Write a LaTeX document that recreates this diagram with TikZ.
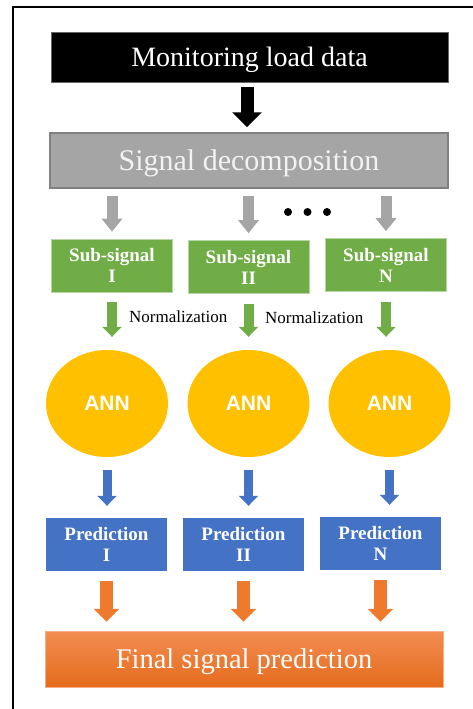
\documentclass[tikz,border=0pt]{standalone}
\usepackage{fontspec}
\setmainfont{Liberation Serif}
\newfontfamily\annfont{Liberation Sans}
\usetikzlibrary{arrows.meta}
\usetikzlibrary{shapes.geometric}

\definecolor{stepgrey}{HTML}{A5A5A5}
\definecolor{stepgreyline}{HTML}{808080}
\definecolor{subgreen}{HTML}{70AD47}
\definecolor{annyellow}{HTML}{FFC000}
\definecolor{predblue}{HTML}{4472C4}
\definecolor{finaltop}{HTML}{F28D52}
\definecolor{finalbottom}{HTML}{E56B1C}
\definecolor{finalorange}{HTML}{EE7A2E}

\tikzset{
  bigbox/.style={rectangle, inner sep=0pt, minimum width=397pt, text=white,
    text depth=0pt, font=\fontsize{28}{30}\selectfont},
  smallbox/.style={rectangle, inner sep=0pt, minimum width=121pt, minimum height=53pt,
    text=white, align=center, font=\bfseries\fontsize{19}{21}\selectfont},
  subbox/.style={smallbox, fill=subgreen, draw=subgreen!50!white, line width=0.6pt},
  predbox/.style={smallbox, fill=predblue},
  annnode/.style={ellipse, fill=annyellow, inner sep=0pt, minimum width=122pt,
    minimum height=107pt, text=white, font=\annfont\bfseries\fontsize{21}{24}\selectfont},
  blockarrow/.style n args={4}{draw=#1, line width=#2,
    -{Triangle[width=#3, length=#4, fill=#1]}},
  normlabel/.style={anchor=west, inner sep=0pt, font=\fontsize{17}{19}\selectfont}
}

\begin{document}
\begin{tikzpicture}[x=1pt, y=-1pt]
\useasboundingbox (0,0) rectangle (472,709);

% frame
\draw[line width=2pt] (12.5,709) -- (12.5,7) -- (473,7);

% top of the flow
\node[bigbox, fill=black, draw=black!60, line width=0.5pt, minimum height=50pt] (load) at (249.5,57) {Monitoring load data};
\node[bigbox, fill=stepgrey, draw=stepgreyline, line width=1.5pt, minimum width=398pt, minimum height=55pt,
  text=white!95!black, font=\fontsize{30}{32}\selectfont] (dec) at (249,160.5) {Signal decomposition};

% sub-signals
\node[subbox] (sub1) at (112,265.5) {Sub-signal\\I};
\node[subbox] (sub2) at (248.5,267) {Sub-signal\\II};
\node[subbox] (sub3) at (386,265) {Sub-signal\\N};
\foreach \dx in {288,307.5,327}
  \fill (\dx,212) circle (4pt);

% networks
\node[annnode] (ann1) at (107,403.5) {ANN};
\node[annnode] (ann2) at (248.5,403.5) {ANN};
\node[annnode] (ann3) at (389.5,403.5) {ANN};

% predictions
\node[predbox] (pred1) at (106.5,544.5) {Prediction\\I};
\node[predbox] (pred2) at (243.5,544.5) {Prediction\\II};
\node[predbox] (pred3) at (380.5,543.5) {Prediction\\N};

\node[bigbox, top color=finaltop, bottom color=finalbottom, draw=finaltop!70!white, line width=0.5pt,
  minimum width=398pt, minimum height=56pt, font=\fontsize{28.5}{30}\selectfont] (final) at (244,659) {Final signal prediction};

% arrows
\draw[blockarrow={black}{13pt}{29pt}{15pt}, shorten <=5pt, shorten >=5pt] (load.south -| dec) ++(-2,0) -- (dec.north -| 247,0);
\foreach \i in {1,2,3} {
  \draw[blockarrow={stepgrey}{11pt}{20pt}{13pt}, shorten <=7pt, shorten >=7pt] (dec.south -| sub\i) -- (sub\i.north);
  \draw[blockarrow={subgreen}{10pt}{19pt}{10pt}, shorten <=10pt, shorten >=13pt] (sub\i.south) -- (sub\i |- ann\i.north);
  \draw[blockarrow={predblue}{9pt}{19pt}{10pt}, shorten <=13pt, shorten >=12pt] (ann\i.south) -- (ann\i |- pred\i.north);
  \draw[blockarrow={finalorange}{13pt}{25pt}{13pt}, shorten <=10pt, shorten >=9pt] (pred\i.south) -- (pred\i |- final.north);
}

\node[normlabel] (norm1) at (129,317) {Normalization};
\node[normlabel] (norm2) at (265,318) {Normalization};
\end{tikzpicture}
\end{document}
